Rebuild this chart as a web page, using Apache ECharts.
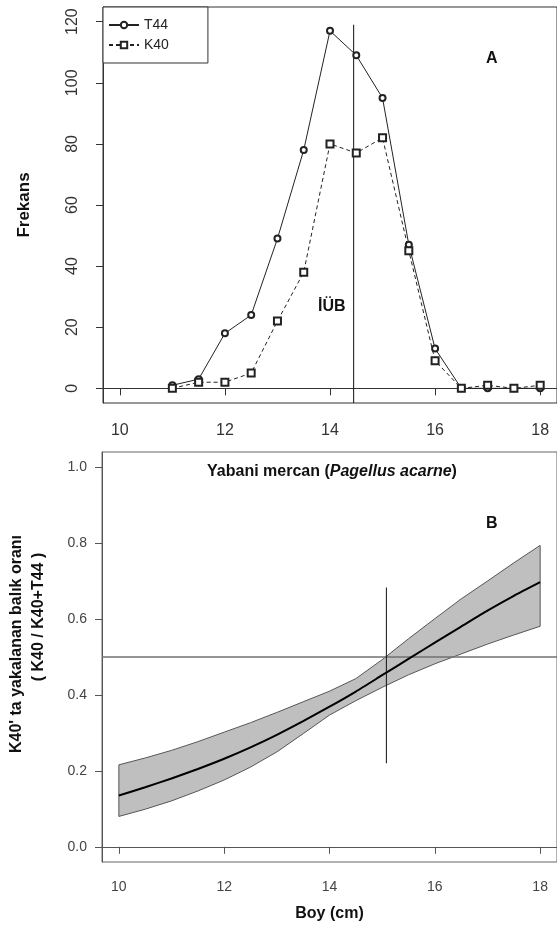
<!DOCTYPE html>
<html>
<head>
<meta charset="utf-8">
<script src="https://cdn.jsdelivr.net/npm/echarts@6/dist/echarts.min.js"></script>
<style>
  html, body { margin: 0; padding: 0; background: #fff; }
  #chart { width: 557px; height: 928px; }
</style>
</head>
<body>
<div id="chart"></div>
<script>
// Panel A: length-frequency of the catch for the two codends
const lengthClasses = [11, 11.5, 12, 12.5, 13, 13.5, 14, 14.5, 15, 15.5, 16, 16.5, 17, 17.5, 18];
const t44Counts = [1, 3, 18, 24, 49, 78, 117, 109, 95, 47, 13, 0, 0, 0, 0];
const k40Counts = [0, 2, 2, 5, 22, 38, 80, 77, 82, 45, 9, 0, 1, 0, 1];
const firstMaturityLength = 14.45;   // İÜB
const freqTicks = [0, 20, 40, 60, 80, 100, 120];
const lengthTicks = [10, 12, 14, 16, 18];

// Panel B: fitted catch share of K40 with its confidence band
const fitLength = [10, 10.5, 11, 11.5, 12, 12.5, 13, 13.5, 14, 14.5, 15, 15.5, 16, 16.5, 17, 17.5, 18];
const fitShare  = [0.135, 0.157, 0.180, 0.205, 0.232, 0.262, 0.295, 0.331, 0.369, 0.409, 0.452, 0.495, 0.538, 0.580, 0.622, 0.661, 0.697];
const fitUpper  = [0.216, 0.234, 0.254, 0.277, 0.302, 0.327, 0.354, 0.382, 0.410, 0.443, 0.493, 0.548, 0.601, 0.653, 0.700, 0.748, 0.794];
const fitLower  = [0.080, 0.099, 0.121, 0.147, 0.176, 0.210, 0.250, 0.298, 0.347, 0.385, 0.420, 0.453, 0.482, 0.508, 0.534, 0.558, 0.581];
const equalShare = 0.5;
const markLength = 15.08;
const markSpan = [0.22, 0.683];
const shareTicks = [0, 0.2, 0.4, 0.6, 0.8, 1.0];

const FONT = '"Liberation Sans", Arial, Helvetica, sans-serif';
const chart = echarts.init(document.getElementById('chart'));

const pairs = (xs, ys) => xs.map((x, i) => [x, ys[i]]);

function bandItem(params, api) {
  if (params.dataIndex !== 0) return null;
  const pts = [];
  for (let i = 0; i < fitLength.length; i++) pts.push(api.coord([fitLength[i], fitUpper[i]]));
  for (let i = fitLength.length - 1; i >= 0; i--) pts.push(api.coord([fitLength[i], fitLower[i]]));
  return {
    type: 'polygon',
    shape: { points: pts },
    style: { fill: '#bfbfbf', stroke: '#555', lineWidth: 1 }
  };
}

const axisTextTop = { color: '#333', fontFamily: FONT, fontSize: 16 };
const axisTextBottom = { color: '#444', fontFamily: FONT, fontSize: 14 };

chart.setOption({
  animation: false,
  textStyle: { fontFamily: FONT },
  grid: [
    { left: 103, top: 7, right: -4, height: 396, show: true, borderColor: '#333', borderWidth: 1, backgroundColor: 'transparent' },
    { left: 102, top: 452, right: -3, height: 410, show: true, borderColor: '#666', borderWidth: 1, backgroundColor: 'transparent' }
  ],
  xAxis: [
    {
      type: 'value', gridIndex: 0, min: 9.68, max: 18.32,
      axisLine: { show: true, lineStyle: { color: '#333' } },
      axisTick: { show: true, length: 7, customValues: lengthTicks, lineStyle: { color: '#333' } },
      axisLabel: Object.assign({ margin: 20, customValues: lengthTicks }, axisTextTop),
      splitLine: { show: false }
    },
    {
      type: 'value', gridIndex: 1, min: 9.68, max: 18.32,
      name: 'Boy (cm)', nameLocation: 'middle', nameGap: 44,
      nameTextStyle: { fontFamily: FONT, fontSize: 16, fontWeight: 'bold', color: '#111' },
      axisLine: { show: true, lineStyle: { color: '#555' } },
      axisTick: { show: true, length: 7, customValues: lengthTicks, lineStyle: { color: '#555' } },
      axisLabel: Object.assign({ margin: 18, customValues: lengthTicks }, axisTextBottom),
      splitLine: { show: false }
    }
  ],
  yAxis: [
    {
      type: 'value', gridIndex: 0, min: -4.8, max: 124.8,
      name: 'Frekans', nameLocation: 'middle', nameGap: 70, nameRotate: 90,
      nameTextStyle: { fontFamily: FONT, fontSize: 17, fontWeight: 'bold', color: '#111' },
      axisLine: { show: true, lineStyle: { color: '#333' } },
      axisTick: { show: true, length: 7, customValues: freqTicks, lineStyle: { color: '#333' } },
      axisLabel: Object.assign({ margin: 22, rotate: 90, customValues: freqTicks }, axisTextTop),
      splitLine: { show: false }
    },
    {
      type: 'value', gridIndex: 1, min: -0.04, max: 1.04,
      axisLine: { show: true, lineStyle: { color: '#555' } },
      axisTick: { show: true, length: 7, customValues: shareTicks, lineStyle: { color: '#555' } },
      axisLabel: Object.assign({ margin: 15, customValues: shareTicks, formatter: v => v.toFixed(1) }, axisTextBottom),
      splitLine: { show: false }
    }
  ],
  legend: {
    left: 103, top: 7, orient: 'vertical', selectedMode: false,
    data: ['T44', 'K40'],
    itemWidth: 30, itemHeight: 8, itemGap: 6,
    padding: [11, 39, 11, 5],
    backgroundColor: '#fff', borderColor: '#333', borderWidth: 1,
    textStyle: { fontFamily: FONT, fontSize: 14, color: '#222' }
  },
  graphic: [
    { type: 'text', left: 486, top: 51, style: { text: 'A', font: 'bold 16px ' + FONT, fill: '#111' } },
    { type: 'text', left: 318, top: 299, style: { text: 'İÜB', font: 'bold 16px ' + FONT, fill: '#111' } },
    { type: 'text', left: 486, top: 516, style: { text: 'B', font: 'bold 16px ' + FONT, fill: '#111' } },
    {
      type: 'text', x: 332, y: 472,
      style: {
        text: '{b|Yabani mercan (}{i|Pagellus acarne}{b|)}',
        align: 'center', verticalAlign: 'middle',
        rich: {
          b: { fontFamily: FONT, fontSize: 16, fontWeight: 'bold', fill: '#111' },
          i: { fontFamily: FONT, fontSize: 16, fontWeight: 'bold', fontStyle: 'italic', fill: '#111' }
        }
      }
    },
    {
      type: 'text', x: 17, y: 644, rotation: Math.PI / 2,
      style: { text: "K40' ta yakalanan balık oranı", font: 'bold 16px ' + FONT, fill: '#111', align: 'center', verticalAlign: 'middle' }
    },
    {
      type: 'text', x: 39, y: 617, rotation: Math.PI / 2,
      style: { text: '( K40 / K40+T44 )', font: 'bold 16px ' + FONT, fill: '#111', align: 'center', verticalAlign: 'middle' }
    }
  ],
  series: [
    {
      name: 'T44', type: 'line', xAxisIndex: 0, yAxisIndex: 0,
      data: pairs(lengthClasses, t44Counts),
      symbol: 'emptyCircle', symbolSize: 6,
      lineStyle: { color: '#222', width: 1 },
      itemStyle: { color: '#222', borderWidth: 1 },
      z: 3
    },
    {
      name: 'K40', type: 'line', xAxisIndex: 0, yAxisIndex: 0,
      data: pairs(lengthClasses, k40Counts),
      symbol: 'emptyRect', symbolSize: 7,
      lineStyle: { color: '#222', width: 1, type: [4, 3] },
      itemStyle: { color: '#222', borderWidth: 1 },
      z: 3
    },
    {
      name: 'İÜB', type: 'line', xAxisIndex: 0, yAxisIndex: 0,
      data: [[firstMaturityLength, -4.8], [firstMaturityLength, 119]],
      showSymbol: false, silent: true,
      lineStyle: { color: '#111', width: 1 }
    },
    {
      name: 'band', type: 'custom', xAxisIndex: 1, yAxisIndex: 1,
      data: pairs(fitLength, fitShare),
      renderItem: bandItem, silent: true, z: 1
    },
    {
      name: 'fit', type: 'line', xAxisIndex: 1, yAxisIndex: 1,
      data: pairs(fitLength, fitShare),
      showSymbol: false, silent: true, smooth: 0.2,
      lineStyle: { color: '#000', width: 2 }, z: 3
    },
    {
      name: 'equal', type: 'line', xAxisIndex: 1, yAxisIndex: 1,
      data: [[9.68, equalShare], [18.32, equalShare]],
      showSymbol: false, silent: true,
      lineStyle: { color: '#707070', width: 1.5 }, z: 2
    },
    {
      name: 'mark', type: 'line', xAxisIndex: 1, yAxisIndex: 1,
      data: [[markLength, markSpan[0]], [markLength, markSpan[1]]],
      showSymbol: false, silent: true,
      lineStyle: { color: '#111', width: 1 }, z: 4
    }
  ]
});
</script>
</body>
</html>
